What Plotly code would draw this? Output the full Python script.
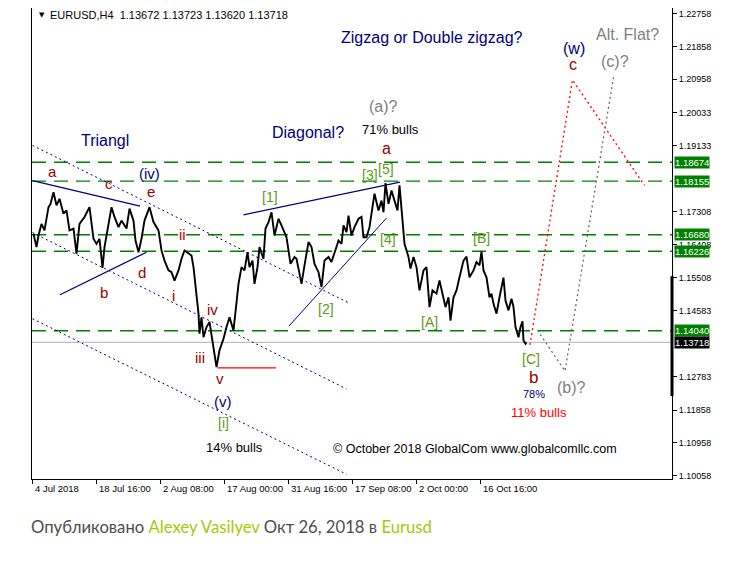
import plotly.graph_objects as go

# ---------------- data ----------------
bar_index = [1, 4, 6, 9, 12, 16, 18, 21, 24, 27, 31, 34, 37, 41, 44, 47, 52, 57, 61, 64,
             67, 70, 72, 76, 79, 82, 86, 89, 94, 97, 101, 103, 106, 109, 112, 117, 121, 126, 129, 132,
             136, 139, 142, 146, 149, 152, 156, 159, 161, 163, 166, 167, 169, 171, 174, 177, 181, 184, 187, 191,
             194, 197, 201, 203, 206, 209, 212, 215, 217, 220, 222, 225, 227, 231, 233, 236, 239, 242, 246, 249,
             252, 254, 256, 258, 262, 264, 267, 269, 272, 276, 279, 282, 286, 289, 292, 296, 299, 302, 306, 309,
             311, 314, 316, 319, 322, 326, 329, 331, 334, 337, 340, 342, 346, 349, 351, 353, 356, 359, 362, 365,
             367, 369, 371, 372, 376, 378, 381, 384, 387, 391, 394, 397, 400, 404, 407, 411, 413, 416, 418, 421,
             424, 427, 431, 434, 437, 441, 444, 447, 449, 451, 454, 457, 459, 461, 464, 467, 471, 473, 476, 479,
             481, 483, 486, 488, 490, 491, 493, 494]
close_price = [1.1671, 1.1634, 1.1666, 1.1698, 1.1680, 1.1744, 1.1753, 1.1785, 1.1749, 1.1767,
               1.1726, 1.1735, 1.1680, 1.1685, 1.1616, 1.1698, 1.1717, 1.1744, 1.1657, 1.1643,
               1.1657, 1.1577, 1.1634, 1.1698, 1.1744, 1.1717, 1.1689, 1.1707, 1.1685, 1.1740,
               1.1707, 1.1652, 1.1620, 1.1657, 1.1707, 1.1744, 1.1703, 1.1680, 1.1625, 1.1597,
               1.1570, 1.1565, 1.1542, 1.1570, 1.1602, 1.1625, 1.1616, 1.1611, 1.1579, 1.1524,
               1.1451, 1.1396, 1.1441, 1.1386, 1.1414, 1.1428, 1.1350, 1.1304, 1.1350, 1.1382,
               1.1414, 1.1441, 1.1405, 1.1460, 1.1533, 1.1579, 1.1570, 1.1620, 1.1579, 1.1597,
               1.1533, 1.1579, 1.1634, 1.1602, 1.1685, 1.1703, 1.1730, 1.1666, 1.1712, 1.1694,
               1.1671, 1.1661, 1.1625, 1.1588, 1.1607, 1.1602, 1.1561, 1.1533, 1.1584, 1.1648,
               1.1634, 1.1588, 1.1565, 1.1524, 1.1597, 1.1607, 1.1593, 1.1616, 1.1652, 1.1643,
               1.1694, 1.1675, 1.1721, 1.1666, 1.1689, 1.1712, 1.1717, 1.1661, 1.1661, 1.1689,
               1.1753, 1.1781, 1.1735, 1.1762, 1.1730, 1.1810, 1.1753, 1.1790, 1.1762, 1.1735,
               1.1804, 1.1735, 1.1680, 1.1643, 1.1607, 1.1575, 1.1607, 1.1579, 1.1515, 1.1570,
               1.1579, 1.1469, 1.1515, 1.1506, 1.1542, 1.1496, 1.1469, 1.1496, 1.1432, 1.1496,
               1.1515, 1.1551, 1.1597, 1.1608, 1.1551, 1.1570, 1.1593, 1.1584, 1.1622, 1.1570,
               1.1551, 1.1496, 1.1506, 1.1478, 1.1451, 1.1496, 1.1550, 1.1487, 1.1460, 1.1492,
               1.1469, 1.1414, 1.1386, 1.1414, 1.1430, 1.1377, 1.1368, 1.13718]

level_prices = [1.18674, 1.18155, 1.16680, 1.16226, 1.14040]
last_price = 1.13718
ytick_values = [1.22758, 1.21858, 1.20958, 1.20033, 1.19133, 1.17308, 1.16408,
                1.15508, 1.14583, 1.12783, 1.11858, 1.10958, 1.10058]
xtick_bars = [0, 64, 128, 192, 256, 320, 384, 448]
xtick_labels = ["4 Jul 2018", "18 Jul 16:00", "2 Aug 08:00", "17 Aug 00:00",
                "31 Aug 16:00", "17 Sep 08:00", "2 Oct 00:00", "16 Oct 16:00"]

# wave-analysis lines: bars and prices of their end points
channel_upper_bars, channel_upper_prices = [0, 316], [1.1914, 1.1481]
channel_mid_bars, channel_mid_prices = [0, 314], [1.1674, 1.1244]
channel_low_bars, channel_low_prices = [0, 314], [1.1437, 1.1009]
triangle_top_bars, triangle_top_prices = [0, 107.5], [1.1817, 1.1747]
triangle_bot_bars, triangle_bot_prices = [27.5, 114], [1.1503, 1.1620]
diag_top_bars, diag_top_prices = [211, 367.5], [1.1723, 1.1813]
diag_bot_bars, diag_bot_prices = [256.5, 354], [1.1417, 1.1714]
wave_v_bars, wave_v_prices = [185, 243.5], [1.1302, 1.1302]
proj_main_bars, proj_main_prices = [497.5, 540, 612], [1.1365, 1.2094, 1.1804]
proj_alt_bars, proj_alt_prices = [505, 532.5, 581], [1.1405, 1.1293, 1.2101]

NAVY = "#000080"
DRED = "#990000"
GREEN = "#008000"
BRK = "#5c9a1a"
GRAY = "#808080"

wave_labels = [
    ("Zigzag or Double zigzag?", 399.5, 1.2212, NAVY, 16),
    ("Triangl", 72, 1.1928, NAVY, 16),
    ("Diagonal?", 275, 1.1950, NAVY, 16),
    ("(a)?", 350.5, 1.2021, GRAY, 16),
    ("71% bulls", 357.5, 1.1958, "#000000", 13),
    ("a", 353.5, 1.1906, DRED, 16),
    ("[3]", 337.5, 1.1833, BRK, 14),
    ("[5]", 353.5, 1.1850, BRK, 14),
    ("[1]", 237, 1.1773, BRK, 14),
    ("[2]", 293.5, 1.1463, BRK, 14),
    ("[4]", 355, 1.1657, BRK, 14),
    ("[A]", 397, 1.1428, BRK, 14),
    ("[B]", 448.5, 1.1660, BRK, 14),
    ("[C]", 498.5, 1.1327, BRK, 14),
    ("b", 501, 1.1275, DRED, 17),
    ("78%", 501, 1.1229, NAVY, 11),
    ("11% bulls", 506, 1.1180, "#ff0000", 13),
    ("(b)?", 538.5, 1.1247, GRAY, 16),
    ("© October 2018 GlobalCom www.globalcomllc.com", 442.5, 1.1079, "#000000", 12.5),
    ("(w)", 541.5, 1.2181, NAVY, 16),
    ("c", 540, 1.2136, DRED, 16),
    ("Alt. Flat?", 595, 1.2219, GRAY, 16),
    ("(c)?", 582.5, 1.2145, GRAY, 16),
    ("a", 20, 1.1842, DRED, 15),
    ("c", 76, 1.1810, DRED, 15),
    ("(iv)", 117, 1.1838, NAVY, 15),
    ("e", 118.5, 1.1787, DRED, 15),
    ("ii", 150, 1.1668, "#cc0000", 15),
    ("b", 71.5, 1.1510, DRED, 15),
    ("d", 109, 1.1565, DRED, 15),
    ("i", 141, 1.1501, DRED, 15),
    ("iv", 180, 1.1463, DRED, 15),
    ("iii", 167, 1.1331, DRED, 15),
    ("v", 187.5, 1.1272, DRED, 15),
    ("(v)", 190, 1.1210, NAVY, 15),
    ("[i]", 191, 1.1150, BRK, 14),
    ("14% bulls", 202, 1.1084, "#000000", 13),
]

X0, X1 = -0.5, 639.5
Y0, Y1 = 1.0996, 1.2292

fig = go.Figure()

def line(xs, ys, color, width, dash="solid"):
    fig.add_trace(go.Scatter(x=xs, y=ys, mode="lines", hoverinfo="skip",
                             line=dict(color=color, width=width, dash=dash)))

for lv in level_prices:
    line([X0, X1], [lv, lv], GREEN, 1.4, "14px,8px")
line([X0, X1], [last_price, last_price], "#c0c0c0", 1.2)

dot = "2px,3px"
line(channel_upper_bars, channel_upper_prices, NAVY, 1, dot)
line(channel_mid_bars, channel_mid_prices, NAVY, 1, dot)
line(channel_low_bars, channel_low_prices, NAVY, 1, dot)
line(triangle_top_bars, triangle_top_prices, NAVY, 1.3)
line(triangle_bot_bars, triangle_bot_prices, NAVY, 1.3)
line(diag_top_bars, diag_top_prices, NAVY, 1.3)
line(diag_bot_bars, diag_bot_prices, NAVY, 1)

fig.add_trace(go.Scatter(x=bar_index, y=close_price, mode="lines", hoverinfo="skip",
                         line=dict(color="#000000", width=1.9)))

line(wave_v_bars, wave_v_prices, "#ff0000", 1.3)
line(proj_main_bars, proj_main_prices, "#ff0000", 1.3, "2px,3px")
line(proj_alt_bars, proj_alt_prices, "#606060", 1.2, "2px,3px")

# thick range marker on the price scale
fig.add_shape(type="line", xref="paper", yref="y", x0=1, x1=1, y0=1.1554, y1=1.1224,
              line=dict(color="#000000", width=3))

anns = []
for txt, bx, py, col, sz in wave_labels:
    anns.append(dict(x=bx, y=py, xref="x", yref="y", text=txt, showarrow=False,
                     xanchor="center", yanchor="middle",
                     font=dict(family="Liberation Sans, Arial", size=sz, color=col)))

for lv in level_prices:
    anns.append(dict(x=1, y=lv, xref="paper", yref="y", text=f"{lv:.5f}", showarrow=False,
                     xanchor="left", yanchor="middle", xshift=2, bgcolor=GREEN, borderpad=0,
                     font=dict(family="Liberation Sans, Arial", size=9.5, color="#ffffff")))
anns.append(dict(x=1, y=last_price, xref="paper", yref="y", text=f"{last_price:.5f}", showarrow=False,
                 xanchor="left", yanchor="middle", xshift=2, bgcolor="#000000", borderpad=0,
                 font=dict(family="Liberation Sans, Arial", size=9.5, color="#ffffff")))

for b, lab in zip(xtick_bars, xtick_labels):
    anns.append(dict(x=b, y=0, xref="x", yref="paper", text=lab, showarrow=False,
                     xanchor="left", yanchor="top", xshift=0, yshift=-2,
                     font=dict(family="Liberation Sans, Arial", size=9.5, color="#000000")))

anns.append(dict(x=0.008, y=0.985, xref="paper", yref="paper", text="▼", showarrow=False,
                 xanchor="left", yanchor="middle",
                 font=dict(family="DejaVu Sans", size=7, color="#000000")))
anns.append(dict(x=0.0255, y=0.985, xref="paper", yref="paper",
                 text="EURUSD,H4  1.13672 1.13723 1.13620 1.13718", showarrow=False,
                 xanchor="left", yanchor="middle",
                 font=dict(family="Liberation Sans, Arial", size=11, color="#000000")))

anns.append(dict(x=-0.004, y=-0.102, xref="paper", yref="paper",
                 text="Опубликовано <span style='color:#a8c80c'>Alexey Vasilyev</span> Окт 26, 2018 в "
                      "<span style='color:#a8c80c'>Eurusd</span>",
                 showarrow=False, xanchor="left", yanchor="middle",
                 font=dict(family="Lato", size=16.7, color="#4d4d4d")))

# the page body has an 8px margin, so the figure is sized and offset to compensate
fig.update_layout(
    width=742, height=574,
    margin=dict(l=24, r=78, t=0, b=103),
    paper_bgcolor="#ffffff", plot_bgcolor="#ffffff",
    showlegend=False,
    annotations=anns,
    xaxis=dict(range=[X0, X1], showgrid=False, zeroline=False,
               showline=True, linecolor="#000000", linewidth=1, mirror=True,
               tickmode="array", tickvals=xtick_bars, ticktext=[""] * len(xtick_bars),
               ticks="outside", ticklen=4, tickcolor="#000000"),
    yaxis=dict(range=[Y0, Y1], side="right", showgrid=False, zeroline=False,
               showline=True, linecolor="#000000", linewidth=1, mirror=True,
               tickmode="array", tickvals=ytick_values,
               ticktext=[f"{v:.5f}" for v in ytick_values],
               ticks="outside", ticklen=4, tickcolor="#000000",
               tickfont=dict(family="Liberation Sans, Arial", size=9, color="#000000")),
)

fig.write_html("out.html")
